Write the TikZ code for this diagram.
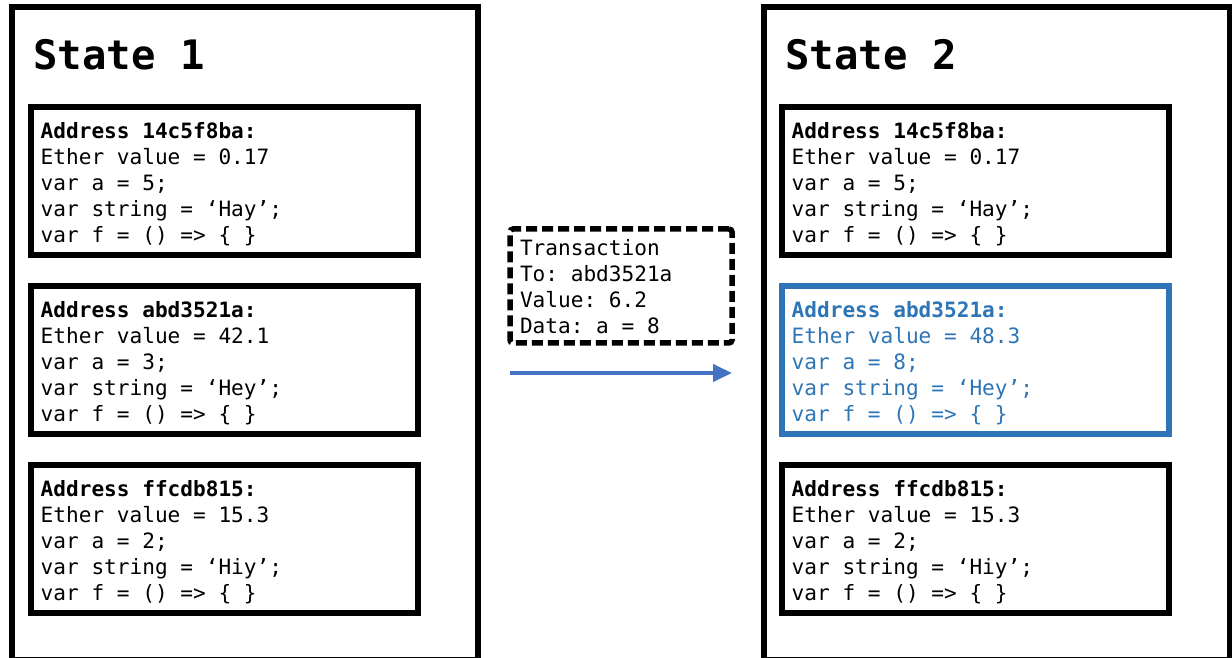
\documentclass[tikz,border=0pt]{standalone}
\usepackage{fontspec}
\setmonofont{DejaVu Sans Mono}
\usetikzlibrary{arrows.meta,positioning}
\definecolor{changedblue}{HTML}{2E75B6}
\definecolor{flowblue}{HTML}{4472C4}
\tikzset{
  statebox/.style={draw=black,line width=3pt,outer sep=0pt,inner sep=0pt,minimum width=233pt,minimum height=326.5pt},
  statetitle/.style={font=\fontsize{20.3pt}{24pt}\selectfont\ttfamily\bfseries,inner sep=0pt,anchor=base west},
  % align=left shrinks the spaces, so give the mono font its own word space back
  accountbox/.style={draw=black,line width=3pt,outer sep=0pt,inner xsep=4.85pt,inner ysep=0pt,text width=183.8pt,align=left,text height=16pt,text depth=58pt,font=\fontsize{10.55pt}{13pt}\selectfont\ttfamily,execute at begin node={\spaceskip=0pt\xspaceskip=0pt}},
  changedbox/.style={accountbox,draw=changedblue,text=changedblue},
  txbox/.style={accountbox,line width=2.75pt,dash pattern=on 5.5pt off 2.5pt,rounded corners=1.5pt,inner xsep=5pt,text width=101pt,text height=13.5pt,text depth=43.5pt},
  txflow/.style={-{Triangle[length=9.5pt,width=8.5pt]},line width=2pt,draw=flowblue}
}
\begin{document}
\begin{tikzpicture}[x=0.5pt,y=0.5pt]
  \useasboundingbox (0,0) rectangle (1232,658);

  % world state before the transaction
  \node[statebox,anchor=north west] (state1) at (12,651) {};
  \node[statetitle] (title1) at (33,588) {State 1};
  \node[accountbox,anchor=north west] (acctA1) at (31,551) {\textbf{Address 14c5f8ba:}\\Ether value = 0.17\\var a = 5;\\var string = ‘Hay’;\\var f = () => \{ \}};
  \node[accountbox,below=15.5pt of acctA1] (acctB1) {\textbf{Address abd3521a:}\\Ether value = 42.1\\var a = 3;\\var string = ‘Hey’;\\var f = () => \{ \}};
  \node[accountbox,below=15.5pt of acctB1] (acctC1) {\textbf{Address ffcdb815:}\\Ether value = 15.3\\var a = 2;\\var string = ‘Hiy’;\\var f = () => \{ \}};

  % transaction in between
  \node[txbox,anchor=north west] (tx) at (510,429) {Transaction\\To: abd3521a\\Value: 6.2\\Data: a = 8};
  \coordinate[below=15pt of tx.south west] (flowstart);
  \coordinate[below=15pt of tx.south east] (flowend);
  \draw[txflow] (flowstart) -- (flowend);

  % world state after the transaction
  \node[statebox,anchor=north west] (state2) at (764,651) {};
  \node[statetitle] (title2) at (785,588) {State 2};
  \node[accountbox,anchor=north west] (acctA2) at (782,551) {\textbf{Address 14c5f8ba:}\\Ether value = 0.17\\var a = 5;\\var string = ‘Hay’;\\var f = () => \{ \}};
  \node[changedbox,below=15.5pt of acctA2] (acctB2) {\textbf{Address abd3521a:}\\Ether value = 48.3\\var a = 8;\\var string = ‘Hey’;\\var f = () => \{ \}};
  \node[accountbox,below=15.5pt of acctB2] (acctC2) {\textbf{Address ffcdb815:}\\Ether value = 15.3\\var a = 2;\\var string = ‘Hiy’;\\var f = () => \{ \}};
\end{tikzpicture}
\end{document}
